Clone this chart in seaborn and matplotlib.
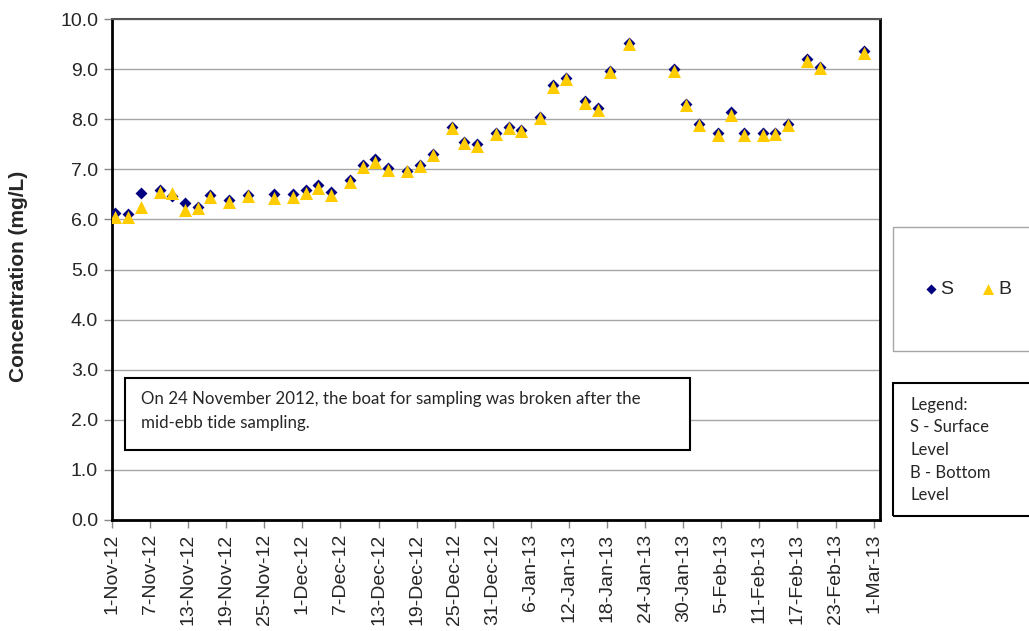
import pandas as pd
import numpy as np
import seaborn as sns
import matplotlib.pyplot as plt
import matplotlib.dates as mdates
from matplotlib.patches import Rectangle

# sampling dates (samples taken around midday)
sample_dates = ['2012-11-01 12:00', '2012-11-03 12:00', '2012-11-05 12:00', '2012-11-08 12:00',
                '2012-11-10 12:00', '2012-11-12 12:00', '2012-11-14 12:00', '2012-11-16 12:00',
                '2012-11-19 12:00', '2012-11-22 12:00', '2012-11-26 12:00', '2012-11-29 12:00',
                '2012-12-01 12:00', '2012-12-03 12:00', '2012-12-05 12:00', '2012-12-08 12:00',
                '2012-12-10 12:00', '2012-12-12 12:00', '2012-12-14 12:00', '2012-12-17 12:00',
                '2012-12-19 12:00', '2012-12-21 12:00', '2012-12-24 12:00', '2012-12-26 12:00',
                '2012-12-28 12:00', '2012-12-31 12:00', '2013-01-02 12:00', '2013-01-04 12:00',
                '2013-01-07 12:00', '2013-01-09 12:00', '2013-01-11 12:00', '2013-01-14 12:00',
                '2013-01-16 12:00', '2013-01-18 12:00', '2013-01-21 12:00', '2013-01-28 12:00',
                '2013-01-30 12:00', '2013-02-01 12:00', '2013-02-04 12:00', '2013-02-06 12:00',
                '2013-02-08 12:00', '2013-02-11 12:00', '2013-02-13 12:00', '2013-02-15 12:00',
                '2013-02-18 12:00', '2013-02-20 12:00', '2013-02-27 12:00']

surface = [6.13, 6.10, 6.53, 6.59, 6.47, 6.33, 6.25, 6.48, 6.39, 6.48, 6.51, 6.50,
           6.59, 6.69, 6.55, 6.79, 7.08, 7.20, 7.03, 6.97, 7.09, 7.31, 7.85, 7.55,
           7.50, 7.73, 7.85, 7.79, 8.05, 8.68, 8.83, 8.36, 8.23, 8.97, 9.53, 9.00,
           8.31, 7.91, 7.72, 8.15, 7.72, 7.72, 7.72, 7.90, 9.20, 9.04, 9.36]

bottom = [6.05, 6.05, 6.24, 6.55, 6.53, 6.19, 6.23, 6.45, 6.34, 6.47, 6.42, 6.45,
          6.53, 6.63, 6.49, 6.75, 7.04, 7.15, 6.99, 6.97, 7.07, 7.29, 7.83, 7.53,
          7.47, 7.71, 7.83, 7.77, 8.03, 8.65, 8.81, 8.33, 8.19, 8.95, 9.51, 8.97,
          8.29, 7.89, 7.68, 8.09, 7.69, 7.69, 7.70, 7.88, 9.17, 9.02, 9.33]

tick_dates = pd.date_range('2012-11-01', '2013-03-01', freq='6D')

note = "On 24 November 2012, the boat for sampling was broken after the\nmid-ebb tide sampling."
legend_note = "Legend:\nS - Surface\nLevel\nB - Bottom\nLevel"

df = pd.DataFrame({'Date': pd.to_datetime(sample_dates), 'S': surface, 'B': bottom})

sns.set_style('white')
plt.rcParams['font.family'] = ['Liberation Sans', 'DejaVu Sans']

W, H = 1029, 631
fig = plt.figure(figsize=(W / 100, H / 100), dpi=100)
ax = fig.add_axes([112 / W, 1 - 520 / H, 768 / W, 501 / H])

sns.scatterplot(data=df, x='Date', y='S', marker='D', color='#000080', s=37,
                linewidth=0, label='S', ax=ax, zorder=3)
sns.scatterplot(data=df, x='Date', y='B', marker='^', color='#FFCC00', s=88,
                linewidth=0, label='B', ax=ax, zorder=4)

ax.set_ylim(0, 10)
ax.set_xlim(pd.Timestamp('2012-11-01'), pd.Timestamp('2013-03-02'))
ax.set_yticks(np.arange(0, 10.5, 1.0))
ax.yaxis.set_major_formatter(plt.FormatStrFormatter('%.1f'))
ax.set_xticks(tick_dates)
ax.xaxis.set_major_formatter(mdates.DateFormatter('%-d-%b-%y'))
ax.tick_params(axis='x', rotation=90)
ax.tick_params(direction='out', length=6, width=1, color='#888888', labelsize=14,
               pad=4, bottom=True, left=True)
ax.grid(axis='y', color='#A6A6A6', linewidth=1)
ax.set_axisbelow(True)
ax.set_xlabel('')
ax.set_ylabel('')

for side in ['left', 'bottom', 'right']:
    ax.spines[side].set_color('black')
    ax.spines[side].set_linewidth(2)
ax.spines['top'].set_color('#555555')
ax.spines['top'].set_linewidth(1.5)

fig.text(19 / W, 1 - 276 / H, 'Concentration (mg/L)', rotation=90, ha='center', va='center',
         fontsize=15, fontweight='bold')

# series legend in a grey box off the right of the plot
handles, labels = ax.get_legend_handles_labels()
ax.get_legend().remove()
fig.patches.append(Rectangle((893 / W, 1 - 351 / H), 0.2, 124 / H, transform=fig.transFigure,
                             fill=False, edgecolor='#A6A6A6', linewidth=1))
fig.legend(handles, labels, loc='center', bbox_to_anchor=(966 / W, 1 - 289 / H), ncol=2,
           frameon=False, fontsize=14, markerscale=0.85, handletextpad=0.0,
           columnspacing=1.3, handlelength=1.0)

# text legend box
fig.patches.append(Rectangle((893 / W, 1 - 516 / H), 0.2, 133 / H, transform=fig.transFigure,
                             fill=False, edgecolor='black', linewidth=1.5))
fig.text(910 / W, 1 - 397 / H, legend_note, ha='left', va='top', fontsize=12,
         family=['Lato', 'DejaVu Sans'], linespacing=1.5)

# note box inside the plot
fig.patches.append(Rectangle((125 / W, 1 - 450 / H), 565 / W, 72 / H, transform=fig.transFigure,
                             facecolor='white', edgecolor='black', linewidth=1.5, zorder=5))
fig.text(141 / W, 1 - 391 / H, note, ha='left', va='top', fontsize=12.2,
         family=['Lato', 'DejaVu Sans'], linespacing=1.6, zorder=6)

plt.savefig('out.png', dpi=100)
